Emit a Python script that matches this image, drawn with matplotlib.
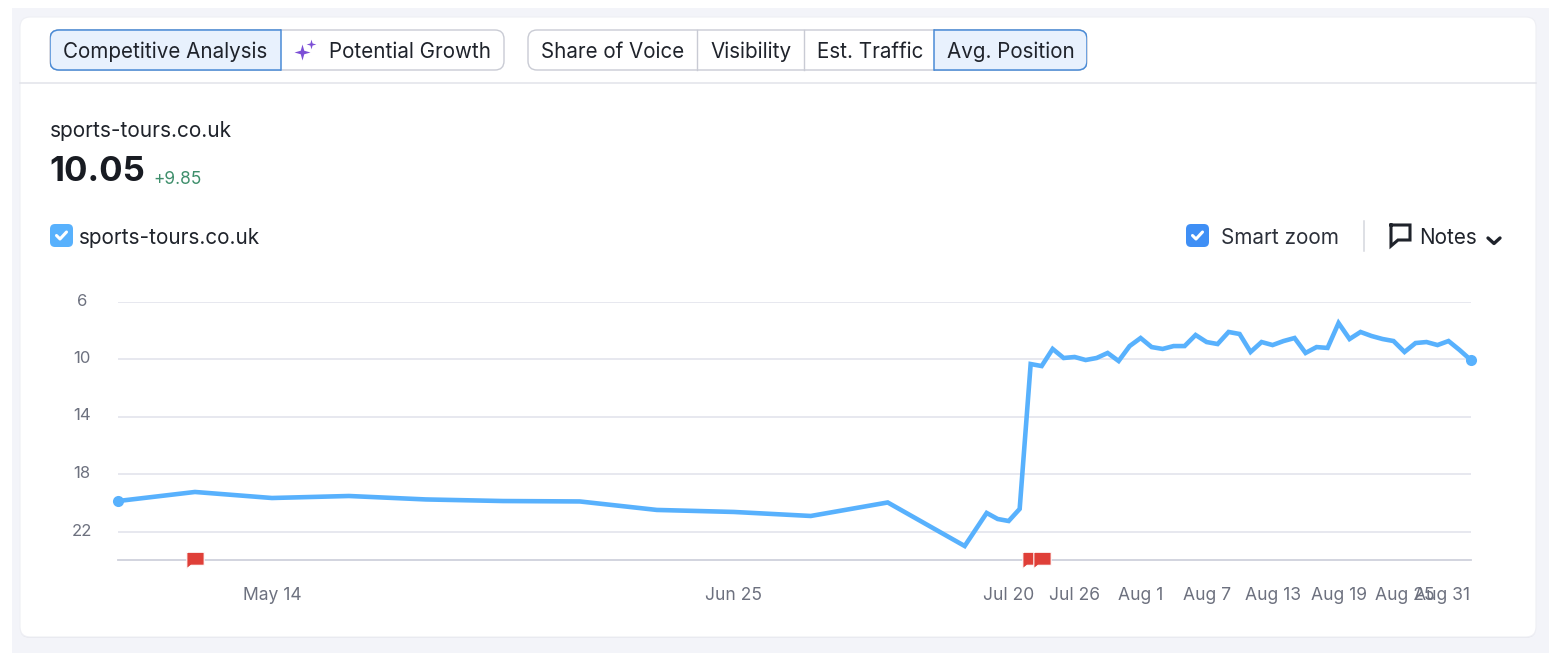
import pandas as pd
import matplotlib
matplotlib.use("Agg")
import matplotlib.pyplot as plt
from matplotlib.patches import FancyBboxPatch, Rectangle
from matplotlib.path import Path
from matplotlib.transforms import ScaledTranslation

plt.rcParams['font.family'] = ['Inter', 'DejaVu Sans']

# weekly points first, then daily from Jul 18
weekly_dates = ["2025-04-30", "2025-05-07", "2025-05-14", "2025-05-21", "2025-05-28", "2025-06-04",
                "2025-06-11", "2025-06-18", "2025-06-25", "2025-07-02", "2025-07-09", "2025-07-16"]
weekly_values = [19.88, 19.25, 19.67, 19.53, 19.77, 19.88, 19.91, 20.50, 20.64, 20.92, 19.98, 23.01]
daily_values = [20.71, 21.13, 21.27, 20.43,
                10.35, 10.49, 9.30, 9.93, 9.86, 10.07, 9.93, 9.58, 10.14, 9.10,
                8.54, 9.17, 9.30, 9.10, 9.10, 8.33, 8.82, 8.96, 8.12, 8.26, 9.51, 8.82, 9.03,
                8.75, 8.54, 9.58, 9.17, 9.23, 7.50, 8.61, 8.12, 8.40, 8.61, 8.75, 9.51, 8.89,
                8.82, 9.03, 8.75, 9.37, 10.05]
note_dates = ["2025-05-07", "2025-07-22", "2025-07-23"]
y_ticks = [6, 10, 14, 18, 22]
x_tick_dates = ["2025-05-14", "2025-06-25", "2025-07-20", "2025-07-26", "2025-08-01",
                "2025-08-07", "2025-08-13", "2025-08-19", "2025-08-25", "2025-08-31"]
x_tick_labels = ["May 14", "Jun 25", "Jul 20", "Jul 26", "Aug 1",
                 "Aug 7", "Aug 13", "Aug 19", "Aug 25", "Aug 31"]

dates = pd.to_datetime(weekly_dates).append(pd.date_range("2025-07-18", "2025-08-31"))
values = weekly_values + daily_values

W, H = 1556, 658
BLUE = "#58b1fd"
DARK = "#1f232b"
GREY = "#6d717f"
fig = plt.figure(figsize=(W / 100, H / 100), dpi=100, facecolor="white")

# whole-figure layer in pixels for the ui around the chart
ui = fig.add_axes([0, 0, 1, 1])
ui.set_xlim(0, W)
ui.set_ylim(H, 0)
ui.axis("off")


def box(x0, y0, x1, y1, r, fc, ec, lw=1.0, z=1):
    p = FancyBboxPatch((x0 + r, y0 + r), x1 - x0 - 2 * r, y1 - y0 - 2 * r,
                       boxstyle="round,pad=%f,rounding_size=%f" % (r, r),
                       fc=fc, ec=ec, lw=lw, zorder=z)
    ui.add_patch(p)
    return p


def active_segment(group, x0, x1):
    # rounded group outline, only shown over the selected segment
    p = box(group[0], 30, group[1], 70, 9, "#e8f1fd", "#4a8bd6", 1.1, z=3)
    p.set_clip_path(Rectangle((x0, 28), x1 - x0, 44, transform=ui.transData))
    ui.plot([x0 if x0 != group[0] else x1] * 2, [30, 70], color="#4a8bd6", lw=1.1, zorder=4)


def check(x, y, size=1.0):
    ui.plot([x - 5 * size, x - 1.5 * size, x + 5 * size], [y, y + 3.5 * size, y - 3.5 * size],
            color="white", lw=2.2, solid_capstyle="round", solid_joinstyle="round", zorder=5)


ui.add_patch(Rectangle((12, 8), 1537, 645, fc="#f3f4f9", ec="none", zorder=0))
box(20, 18, 1536, 638, 10, "#e4e5ec", "none", 0, z=0.5)
box(20, 17, 1536, 637, 10, "white", "#eeeff4", 0.8)
ui.plot([20, 1536], [83, 83], color="#e2e3e9", lw=1.1, zorder=2)

# button groups
box(50, 30, 504, 70, 9, "white", "#c9cbd4", z=2)
active_segment((50, 504), 50, 281)
box(528, 30, 1087, 70, 9, "white", "#c9cbd4", z=2)
for xd in [697, 804]:
    ui.plot([xd, xd], [30, 70], color="#c9cbd4", lw=1.0, zorder=3)
active_segment((528, 1087), 934, 1087)
for label, xt in [("Competitive Analysis", 63), ("Potential Growth", 329), ("Share of Voice", 541),
                  ("Visibility", 710), ("Est. Traffic", 817), ("Avg. Position", 947)]:
    ui.text(xt, 52, label, fontsize=14.85, color=DARK, va="center", zorder=6)

# sparkle icon
star = Path([(0, 1), (0.22, 0.22), (1, 0), (0.22, -0.22), (0, -1), (-0.22, -0.22), (-1, 0), (-0.22, 0.22), (0, 1)])
ui.plot([302], [52], marker=star, ms=11.5, color="#7c4fd6", mew=0, zorder=6)
ui.plot([311], [43.5], marker=star, ms=7, color="#7c4fd6", mew=0, zorder=6)

# headline
ui.text(50, 131, "sports-tours.co.uk", fontsize=15, color=DARK, va="center")
ui.text(49, 172, "10.05", fontsize=25, color="#181b22", va="center", fontweight="bold")
ui.text(153, 179, "+9.85", fontsize=12.5, color="#3f8f6c", va="center")

# legend row
box(50, 224, 73, 247, 5, BLUE, "none", 0, z=2)
check(61.5, 235.5)
ui.text(79, 238, "sports-tours.co.uk", fontsize=14.9, color=DARK, va="center")
box(1186, 224, 1209, 247, 5, "#3f8ff5", "none", 0, z=2)
check(1197.5, 235.5)
ui.text(1221, 238, "Smart zoom", fontsize=14.9, color="#2c303a", va="center")
ui.plot([1364, 1364], [221, 251], color="#d5d7de", lw=1.1)
ui.plot([1391, 1410, 1410, 1398, 1391, 1391], [225, 225, 240, 240, 246, 225], color=DARK, lw=2.2,
        solid_joinstyle="miter")
ui.text(1419, 238, "Notes", fontsize=14.9, color=DARK, va="center")
ui.plot([1488, 1494, 1500], [238, 243.5, 238], color=DARK, lw=2.4, solid_capstyle="round")

# chart area, top is y=6 and bottom the y=24 baseline
ax = fig.add_axes([118 / W, 1 - 560.25 / H, (1470.5 - 118) / W, (560.25 - 301.5) / H])
ax.patch.set_alpha(0)
ax.set_ylim(24, 6)
ax.set_xlim(pd.Timestamp("2025-04-30"), pd.Timestamp("2025-08-31"))
for s in ["top", "left", "right"]:
    ax.spines[s].set_visible(False)
ax.spines["bottom"].set_color("#cfd1dc")
ax.spines["bottom"].set_linewidth(1.3)

ax.set_yticks(y_ticks)
ax.set_yticklabels([str(v) for v in y_ticks], ha="center")
ax.tick_params(axis="y", length=0, pad=26, labelsize=12, labelcolor=GREY)
ax.grid(axis="y", color="#e5e6ee", lw=1.3, zorder=0)
up = ScaledTranslation(0, 2 / 100, fig.dpi_scale_trans)
for lab in ax.get_yticklabels():
    lab.set_transform(lab.get_transform() + up)

ax.set_xticks(pd.to_datetime(x_tick_dates))
ax.set_xticklabels(x_tick_labels)
ax.tick_params(axis="x", length=0, pad=19, labelsize=12.6, labelcolor=GREY)
ax.get_xticklabels()[-1].set_ha("right")

ax.plot(dates, values, color=BLUE, lw=3.3, marker="o", ms=8, mew=0, markevery=[0, len(values) - 1],
        solid_joinstyle="miter", clip_on=False, zorder=3)

flag = Path([(-1, 0.95), (1, 0.95), (1, -0.55), (-0.5, -0.55), (-1, -0.95), (-1, 0.95)])
for d in note_dates:
    ax.plot([pd.Timestamp(d)], [24], marker=flag, ms=12.5, color="#df3f38", mec="white", mew=0.8,
            clip_on=False, zorder=4)

fig.savefig("out.png", dpi=100)
